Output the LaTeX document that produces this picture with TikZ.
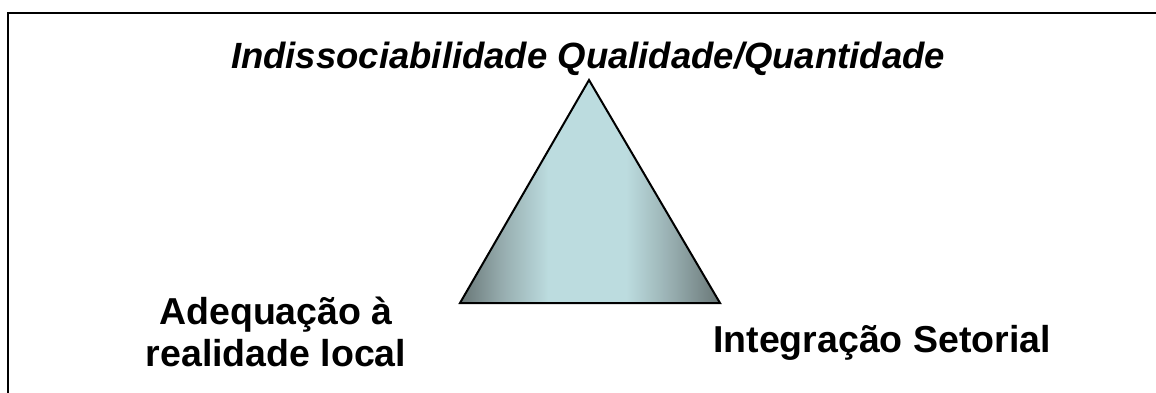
\documentclass[tikz,border=0pt]{standalone}
\usepackage{fontspec}
\setmainfont{Liberation Sans}
\definecolor{triedge}{RGB}{104,118,118}
\definecolor{trimid}{RGB}{150,172,174}
\definecolor{trilight}{RGB}{188,220,223}
\pgfdeclarehorizontalshading{trishade}{100bp}{color(0bp)=(triedge); color(25bp)=(triedge); color(33bp)=(trimid); color(42bp)=(trilight); color(57bp)=(trilight); color(66bp)=(trimid); color(75bp)=(triedge); color(100bp)=(triedge)}
\tikzset{
  label/.style={font=\bfseries\fontsize{37.5}{42}\selectfont, inner sep=0pt, align=center},
  title/.style={font=\bfseries\itshape\fontsize{36.5}{40}\selectfont, inner sep=0pt},
}
\begin{document}
\begin{tikzpicture}[x=1pt,y=-1pt]
\useasboundingbox (0,0) rectangle (1156,392);
\fill[white] (0,0) rectangle (1156,392);
\begin{scope}
\clip (0,0) rectangle (1156,392);
\draw[line width=2.6pt] (8,400) -- (8,13) -- (1170,13);
\end{scope}
\coordinate (apex) at (589,80);
\coordinate (bl) at (460,303);
\coordinate (br) at (720,303);
\shade[shading=trishade] (apex) -- (bl) -- (br) -- cycle;
\draw[line width=2pt, line join=miter] (apex) -- (bl) -- (br) -- cycle;
\node[title, anchor=base] (t) at (588,68) {Indissociabilidade Qualidade/Quantidade};
\node[label, anchor=base] (a1) at (276,324) {Adequação à};
\node[label, anchor=base] (a2) at (276,366) {realidade local};
\node[label, anchor=base] (i) at (882,352) {Integração Setorial};
\end{tikzpicture}
\end{document}
